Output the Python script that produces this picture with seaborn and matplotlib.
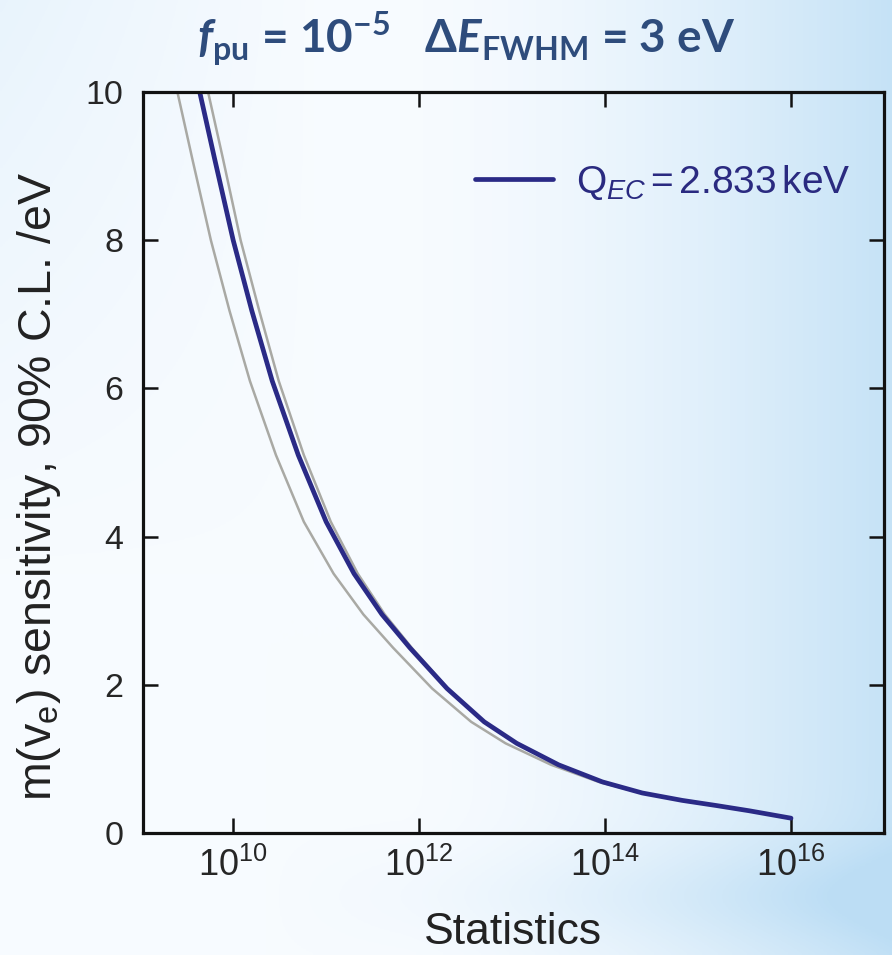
import numpy as np
import pandas as pd
import matplotlib
matplotlib.use("Agg")
import matplotlib.pyplot as plt
import seaborn as sns

# ---------------- data ----------------
blue_log_stats = [9.64, 9.80, 10.00, 10.20, 10.42, 10.70, 11.00, 11.30, 11.60, 11.90, 12.30,
                  12.70, 13.05, 13.50, 13.97, 14.40, 14.83, 15.20, 15.55, 16.00]
blue_sens = [10.0, 9.1, 8.0, 7.05, 6.1, 5.1, 4.2, 3.5, 2.95, 2.5, 1.95,
             1.50, 1.21, 0.92, 0.69, 0.54, 0.44, 0.37, 0.30, 0.20]

grayL_log_stats = [9.40, 9.56, 9.76, 9.96, 10.18, 10.46, 10.76, 11.08, 11.40, 11.72, 12.14,
                   12.56, 12.93, 13.42, 13.93, 14.39, 14.83, 15.20, 15.55, 16.00]
grayL_sens = [10.0, 9.1, 8.0, 7.05, 6.1, 5.1, 4.2, 3.5, 2.95, 2.5, 1.95,
              1.50, 1.21, 0.92, 0.69, 0.54, 0.44, 0.37, 0.30, 0.20]

grayR_log_stats = [9.73, 9.89, 10.08, 10.28, 10.49, 10.76, 11.05, 11.34, 11.63, 11.92, 12.31,
                   12.70, 13.05, 13.50, 13.97, 14.40, 14.83, 15.20, 15.55, 16.00]
grayR_sens = [10.0, 9.1, 8.0, 7.05, 6.1, 5.1, 4.2, 3.5, 2.95, 2.5, 1.95,
              1.50, 1.21, 0.92, 0.69, 0.54, 0.44, 0.37, 0.30, 0.20]

x_tick_exponents = [10, 12, 14, 16]
y_ticks = [0, 2, 4, 6, 8, 10]
legend_label = r"Q$_{\mathit{EC}}$$\,$=$\,$2.833$\,$keV"
title_text = (r"$\mathbfit{f}_{\mathbf{pu}}$ = 10$^{\mathbf{-5}}$   "
              r"Δ$\mathbfit{E}_{\mathbf{FWHM}}$ = 3 eV")

# ---------------- style ----------------
sns.set_theme(style="ticks")
plt.rcParams["font.family"] = ["Liberation Sans", "DejaVu Sans"]
plt.rcParams["mathtext.fontset"] = "custom"
plt.rcParams["mathtext.rm"] = "Liberation Sans"
plt.rcParams["mathtext.it"] = "Liberation Sans:italic"
plt.rcParams["mathtext.bf"] = "Lato:bold"
try:
    plt.rcParams["mathtext.bfit"] = "Lato:bold:italic"
except KeyError:
    pass

W, H = 892, 955
fig = plt.figure(figsize=(W / 100, H / 100), dpi=100)

# background gradient
bg = fig.add_axes([0, 0, 1, 1], zorder=-10)
gx, gy = np.meshgrid(np.linspace(0, 1, 300), np.linspace(0, 1, 300))
t = 0.85 * np.clip((gx - 0.45) / 0.55, 0, 1) ** 1.6
t += 0.25 * np.clip((0.35 - gx) / 0.35, 0, 1) * np.clip((0.6 - gy) / 0.6, 0, 1)
t += 0.35 * np.exp(-((gy - 0.94) / 0.05) ** 2) * np.clip((gx - 0.3) / 0.7, 0, 1)
t = np.clip(t, 0, 1)
white = np.array([0.97, 0.985, 1.0])
blue_bg = np.array([0.74, 0.87, 0.96])
img = white[None, None, :] * (1 - t[..., None]) + blue_bg[None, None, :] * t[..., None]
bg.imshow(img, aspect="auto", extent=[0, 1, 1, 0])
bg.set_axis_off()

left, right, top, bottom = 143 / W, 884 / W, 1 - 92 / H, 1 - 833 / H
ax = fig.add_axes([left, bottom, right - left, top - bottom])
ax.patch.set_alpha(0)

df_b = pd.DataFrame({"stats": 10.0 ** np.array(blue_log_stats), "sens": blue_sens})
df_l = pd.DataFrame({"stats": 10.0 ** np.array(grayL_log_stats), "sens": grayL_sens})
df_r = pd.DataFrame({"stats": 10.0 ** np.array(grayR_log_stats), "sens": grayR_sens})

sns.lineplot(data=df_l, x="stats", y="sens", ax=ax, color="#a9a9a4", lw=1.8,
             sort=False, estimator=None, legend=False)
sns.lineplot(data=df_r, x="stats", y="sens", ax=ax, color="#a9a9a4", lw=1.8,
             sort=False, estimator=None, legend=False)
sns.lineplot(data=df_b, x="stats", y="sens", ax=ax, color="#2a2a86", lw=3.4,
             sort=False, estimator=None, label=legend_label)
for ln in ax.get_lines():
    ln.set_solid_joinstyle("round")

ax.set_xscale("log")
ax.set_xlim(10 ** 9.03, 1e17)
ax.set_ylim(0, 10)
ax.set_xticks([10.0 ** e for e in x_tick_exponents])
ax.set_xticklabels([r"$\mathregular{10^{%d}}$" % e for e in x_tick_exponents])
ax.xaxis.set_minor_locator(matplotlib.ticker.NullLocator())
ax.set_yticks(y_ticks)
ax.set_yticklabels([str(v) for v in y_ticks])

for s in ax.spines.values():
    s.set_linewidth(2.3)
    s.set_color("#111111")
ax.tick_params(axis="both", which="major", direction="in", length=10.5, width=1.8,
               color="#111111", labelsize=24.5, labelcolor="#262626",
               top=True, right=True, pad=12)
ax.tick_params(axis="x", labelsize=26, pad=11)
ax.tick_params(axis="y", pad=14)

ax.set_xlabel("Statistics", fontsize=32, color="#222222", labelpad=20)
ax.set_ylabel(r"m(v$_\mathregular{e}$) sensitivity, 90% C.L. /eV", fontsize=33.5,
              color="#222222")
ax.yaxis.set_label_coords(-0.108, 0.468)

leg = ax.legend(loc="center left", bbox_to_anchor=(475 / W, 1 - 182 / H),
                bbox_transform=fig.transFigure, frameon=False, fontsize=28,
                handlelength=2.0, handletextpad=0.6, borderpad=0, borderaxespad=0)
for txt in leg.get_texts():
    txt.set_color("#2a2a80")
for ln in leg.get_lines():
    ln.set_linewidth(3.4)

fig.text(466 / W, 1 - 39 / H, title_text, ha="center", va="center", fontsize=33,
         color="#2e4c7c", family=["Lato", "DejaVu Sans"], fontweight="bold")

fig.savefig("out.png", dpi=100)
